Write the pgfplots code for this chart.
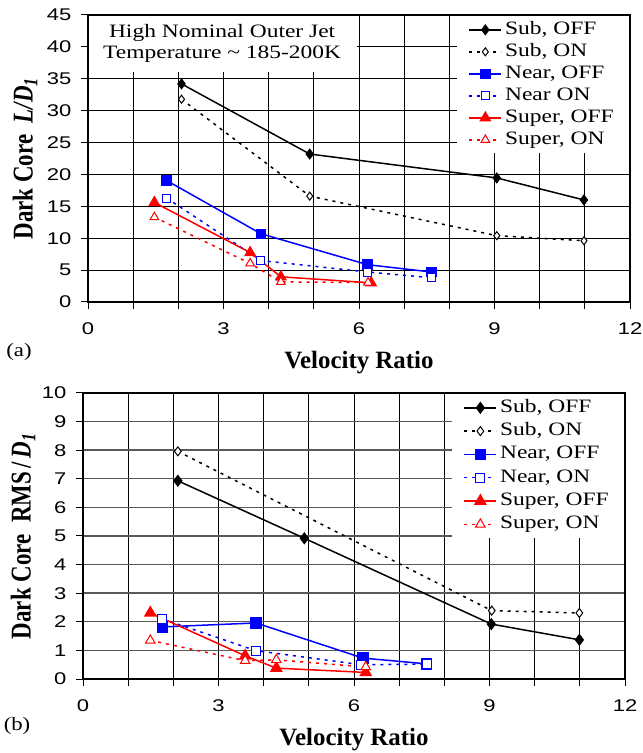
\documentclass[border=0pt]{standalone}
\usepackage{fontspec}
\setmainfont{Liberation Serif}[FakeStretch=1.2]
\newfontfamily\tickfont{Liberation Sans}[FakeStretch=1.3]
\newfontfamily\labfont{Liberation Serif}
\usepackage{pgfplots}
\pgfplotsset{compat=1.18}
\pgfplotsset{
  myaxis/.style={
    scale only axis, width=542bp, anchor=south west,
    xmin=0, xmax=12, xtick={0,3,6,9,12}, minor xtick={1,2,4,5,7,8,10,11},
    grid=both,
    major grid style={black, line width=1bp},
    minor grid style={black, line width=1bp},
    axis line style={black, line width=1.3bp},
    tick align=outside, major tick length=7bp, minor tick length=7bp,
    every tick/.style={black, line width=1bp},
    xtick pos=bottom, ytick pos=left,
    /pgf/number format/assume math mode=true,
    tick label style={font=\tickfont\fontsize{17}{17}\selectfont},
    xticklabel style={yshift=-10bp},
    yticklabel style={xshift=-6bp},
    every axis x label/.style={at={(rel axis cs:0.5,-0.2125)}, anchor=center},
    xlabel style={font=\labfont\bfseries\fontsize{25}{25}\selectfont},
    legend cell align=left,
    legend image code/.code={\draw[mark repeat=2,mark phase=2,##1] plot coordinates {(0bp,0bp) (16bp,0bp) (32bp,0bp)};},
    legend style={draw=none, fill=white, font=\fontsize{19}{19}\selectfont\addfontfeatures{FakeStretch=1.24},
      at={(0.998,0.996)}, anchor=north east, inner xsep=12bp, inner ysep=5bp,
      nodes={inner ysep=0pt, inner xsep=3bp, text height=13bp, text depth=4bp}},
  },
  off/.style={solid, line width=1.5bp},
  on/.style={line width=1.5bp, dash pattern=on 3bp off 5bp},
}
\begin{document}
\begin{tikzpicture}
\useasboundingbox (0,0) rectangle (643bp,753bp);
% ---------------- (a) ----------------
\begin{axis}[myaxis, at={(88bp,451bp)}, height=287bp,
  ymin=0, ymax=45, ytick={0,5,...,45},
  xlabel={Velocity Ratio},
  every axis y label/.style={at={(rel axis cs:-0.1162,0.5)}, rotate=90, anchor=center, font=\labfont\bfseries\fontsize{23}{23}\selectfont},
  ylabel={\scalebox{1}[1.25]{Dark Core\ \ \textit{L/D}\textsubscript{\textit{1}}}},
  legend style={row sep=5bp},
]
\fill[white] ([xshift=0.7bp,yshift=-0.7bp]rel axis cs:0,1) rectangle (axis cs:5.95,36);
\node[align=center, font=\fontsize{19}{21}\selectfont\addfontfeatures{FakeStretch=1.24}] at (axis cs:2.97,40.5) {High Nominal Outer Jet\\Temperature \textasciitilde{} 185-200K};
\addplot[black, off, mark=diamond*, mark size=4.5bp, mark options={solid}] coordinates {(2.07,34.2) (4.91,23.2) (9.05,19.45) (10.98,16.0)};
\addlegendentry{Sub, OFF}
\addplot[black, on, mark=diamond*, mark size=4bp, mark options={solid, fill=white, line width=1bp}] coordinates {(2.07,31.8) (4.91,16.6) (9.05,10.4) (10.98,9.6)};
\addlegendentry{Sub, ON}
\addplot[blue, off, mark=square*, mark size=4.5bp, mark options={solid}] coordinates {(1.74,19.05) (3.83,10.7) (6.19,5.85) (7.61,4.7)};
\addlegendentry{Near, OFF}
\addplot[blue, on, mark=square*, mark size=4bp, mark options={solid, fill=white, line width=1bp}] coordinates {(1.74,16.3) (3.83,6.5) (6.19,4.7) (7.61,3.8)};
\addlegendentry{Near ON}
\addplot[red, off, mark=triangle*, mark size=5.5bp, mark options={solid}] coordinates {(1.47,15.6) (3.59,7.75) (4.27,3.95) (6.27,3.0)};
\addlegendentry{Super, OFF}
\addplot[red, on, mark=triangle*, mark size=5bp, mark options={solid, fill=white, line width=1bp}] coordinates {(1.47,13.3) (3.59,6.05) (4.27,3.15) (6.2,3.05)};
\addlegendentry{Super, ON}
\end{axis}
\node[font=\fontsize{19}{19}\selectfont] at (19bp,401bp) {(a)};
% ---------------- (b) ----------------
\begin{axis}[myaxis, at={(83bp,74bp)}, height=286bp,
  ymin=0, ymax=10, ytick={0,1,...,10},
  y grid style={black!65, line width=1.4bp},
  xlabel={Velocity Ratio},
  every axis y label/.style={at={(rel axis cs:-0.1107,0.5)}, rotate=90, anchor=center, font=\labfont\bfseries\fontsize{23}{23}\selectfont},
  ylabel={\scalebox{1}[1.25]{Dark Core\ \ RMS\,/\,\textit{D}\textsubscript{\textit{1}}}},
  legend style={row sep=6.3bp, inner ysep=5bp},
]
\addplot[black, off, mark=diamond*, mark size=5bp, mark options={solid}] coordinates {(2.10,6.93) (4.90,4.92) (9.04,1.92) (10.99,1.37)};
\addlegendentry{Sub, OFF}
\addplot[black, on, mark=diamond*, mark size=4.5bp, mark options={solid, fill=white, line width=1bp}] coordinates {(2.10,7.96) (9.05,2.39) (10.99,2.31)};
\addlegendentry{Sub, ON}
\addplot[blue, off, mark=square*, mark size=5bp, mark options={solid}] coordinates {(1.76,1.82) (3.83,1.96) (6.20,0.73) (7.61,0.53)};
\addlegendentry{Near, OFF}
\addplot[blue, on, mark=square*, mark size=4.5bp, mark options={solid, fill=white, line width=1bp}] coordinates {(1.76,2.10) (3.83,0.99) (6.16,0.50) (7.61,0.52)};
\addlegendentry{Near, ON}
\addplot[red, off, mark=triangle*, mark size=6bp, mark options={solid}] coordinates {(1.49,2.31) (3.59,0.81) (4.28,0.38) (6.26,0.23)};
\addlegendentry{Super, OFF}
\addplot[red, on, mark=triangle*, mark size=5.5bp, mark options={solid, fill=white, line width=1bp}] coordinates {(1.49,1.35) (3.59,0.64) (4.28,0.67) (6.26,0.42)};
\addlegendentry{Super, ON}
\end{axis}
\node[font=\fontsize{19}{19}\selectfont] at (17bp,27bp) {(b)};
\end{tikzpicture}
\end{document}
